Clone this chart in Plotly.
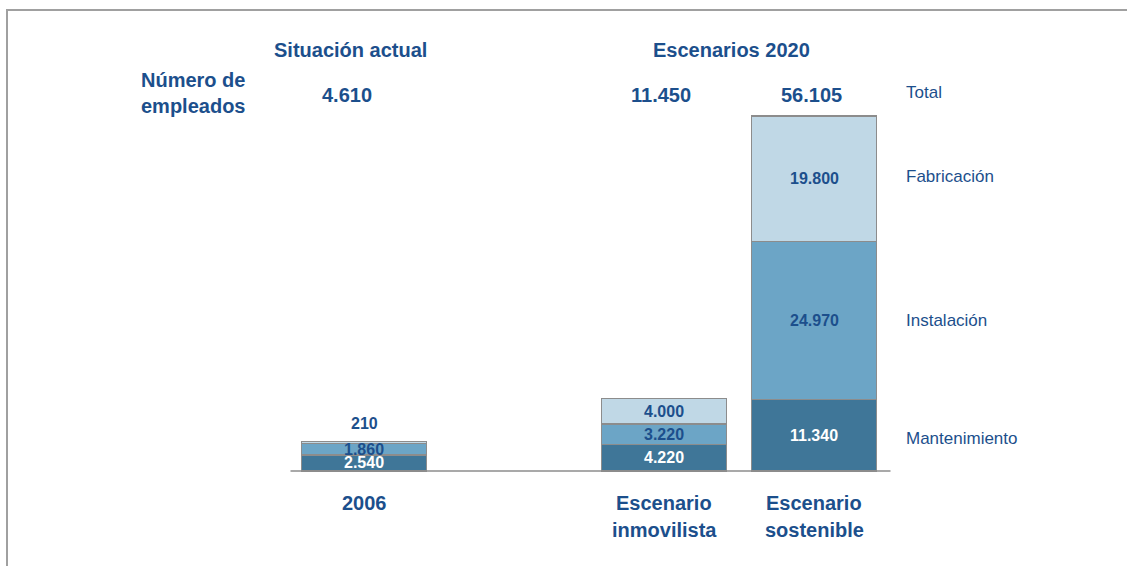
import plotly.graph_objects as go

# datos
categorias = ["2006", "Escenario\ninmovilista", "Escenario\nsostenible"]
posiciones = [0, 2, 3]
mantenimiento = [2540, 4220, 11340]
instalacion = [1860, 3220, 24970]
fabricacion = [210, 4000, 19800]
totales = [4610, 11450, 56105]
series = ["Mantenimiento", "Instalación", "Fabricación"]
grupos = ["Situación actual", "Escenarios 2020"]

AZUL = "#1c4f8c"
COLORES = ["#3f7698", "#6ca5c6", "#c0d8e6"]
TXT_COLORES = ["white", AZUL, AZUL]
FONT = "Arial, Liberation Sans, sans-serif"
W, H = 1127, 566


def fmt(v):
    return f"{v:,}".replace(",", ".")


def py(px_y):
    # pixel vertical -> paper
    return 1 - px_y / H


fig = go.Figure()
for nombre, vals, col in zip(series, [mantenimiento, instalacion, fabricacion], COLORES):
    fig.add_trace(go.Bar(
        x=posiciones, y=vals, name=nombre, width=0.833,
        marker=dict(color=col, line=dict(color="#8c8c8c", width=1.2)),
        hoverinfo="skip"
    ))

ann = []
# etiquetas de segmentos
for i, x in enumerate(posiciones):
    base = 0
    for j, vals in enumerate([mantenimiento, instalacion, fabricacion]):
        v = vals[i]
        if v < 1000:
            ann.append(dict(x=x, y=base + v, yshift=18, text=f"<b>{fmt(v)}</b>",
                            font=dict(size=16, color=AZUL)))
        else:
            ann.append(dict(x=x, y=base + v / 2, text=f"<b>{fmt(v)}</b>",
                            font=dict(size=16, color=TXT_COLORES[j])))
        base += v

# totales (el primero algo desplazado a la izquierda, como en el original)
for i, (x, t) in enumerate(zip(posiciones, totales)):
    ann.append(dict(x=x, xshift=-17 if i == 0 else -3, y=py(95), yref="paper",
                    text=f"<b>{fmt(t)}</b>", font=dict(size=20, color=AZUL)))

# categorias debajo
for x, c in zip(posiciones, categorias):
    for k, linea in enumerate(c.split("\n")):
        ann.append(dict(x=x, y=py(503 + 27 * k), yref="paper", text=f"<b>{linea}</b>",
                        font=dict(size=20, color=AZUL)))

# cabeceras
ann.append(dict(x=posiciones[0], xshift=-14, y=py(50), yref="paper", text=f"<b>{grupos[0]}</b>",
                font=dict(size=20, color=AZUL)))
ann.append(dict(x=(posiciones[1] + posiciones[2]) / 2 - 0.05, y=py(50), yref="paper",
                text=f"<b>{grupos[1]}</b>", font=dict(size=20, color=AZUL)))
for k, linea in enumerate(["Número de", "empleados"]):
    ann.append(dict(x=139 / W, xref="paper", xanchor="left", y=py(80 + 26 * k), yref="paper",
                    text=f"<b>{linea}</b>", font=dict(size=20, color=AZUL)))

# etiquetas de series a la derecha
xr = posiciones[-1] + 0.6
ann.append(dict(x=xr, xanchor="left", y=py(92), yref="paper", text="Total",
                font=dict(size=17, color=AZUL)))
base = 0
for nombre, v, dy in zip(series, [mantenimiento[-1], instalacion[-1], fabricacion[-1]], [-3, 0, 2]):
    ann.append(dict(x=xr, xanchor="left", y=base + v / 2, yshift=dy, text=nombre,
                    font=dict(size=17, color=AZUL)))
    base += v

for a in ann:
    a.setdefault("xref", "x")
    a.setdefault("yref", "y")
    a.setdefault("xanchor", "center")
    a["yanchor"] = "middle"
    a["showarrow"] = False

# escala: 150 px por unidad x, 355 px para 56.105
px_x = 150
px_y = 355 / totales[-1]
x0 = 364
y0 = 471

fig.update_layout(
    width=W, height=H,
    barmode="stack",
    showlegend=False,
    plot_bgcolor="white", paper_bgcolor="white",
    margin=dict(l=0, r=0, t=0, b=0),
    font=dict(family=FONT),
    xaxis=dict(range=[-x0 / px_x, (W - x0) / px_x], visible=False, fixedrange=True),
    yaxis=dict(range=[-(H - y0) / px_y, y0 / px_y], visible=False, fixedrange=True),
    annotations=ann,
    shapes=[
        dict(type="line", xref="x", yref="y", x0=posiciones[0] - 0.49, x1=posiciones[-1] + 0.51,
             y0=0, y1=0, line=dict(color="#8c8c8c", width=1.5)),
        dict(type="rect", xref="paper", yref="paper", x0=7 / W, x1=1.01, y0=-0.01, y1=py(10),
             line=dict(color="#a0a0a0", width=2)),
    ],
)

fig.write_html(
    "out.html",
    config={"displayModeBar": False},
    post_script="document.body.style.margin='0';document.body.style.overflow='hidden';",
)
